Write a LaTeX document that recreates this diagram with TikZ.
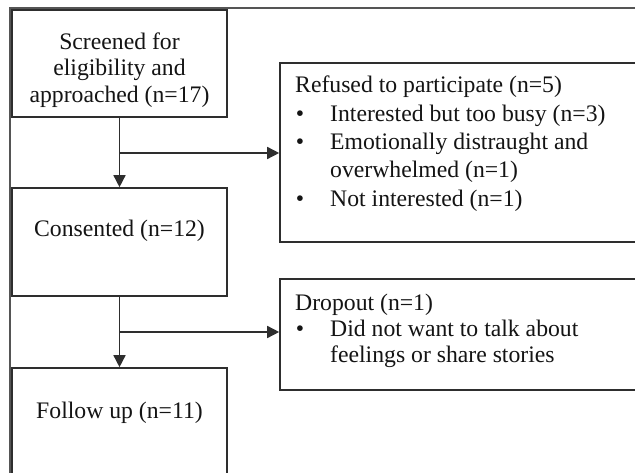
\documentclass[tikz,border=0pt]{standalone}
\usepackage{fontspec}
\setmainfont{Liberation Serif}
\usetikzlibrary{arrows.meta}
\definecolor{ink}{HTML}{141414}
\definecolor{edge}{HTML}{2E2E2E}
\definecolor{frame}{HTML}{555555}
\tikzset{
  box/.style={draw=edge, line width=1.6pt, rectangle, inner sep=0pt},
  txt/.style={inner sep=0pt, text=ink, font=\fontsize{23.7}{28}\selectfont},
  arr/.style={draw=edge, line width=1.5pt, -{Triangle[length=12pt,width=12pt]}},
}
\begin{document}
\begin{tikzpicture}[x=1pt,y=-1pt]
\useasboundingbox (0,0) rectangle (635,473);
\clip (0,0) rectangle (635,473);
\fill[white] (0,0) rectangle (635,473);
% outer frame (cropped)
\draw[frame, line width=2pt] (650,8) -- (10,8) -- (10,490);
% boxes
\node[box, minimum width=215pt, minimum height=107pt] (b1) at (119.5,63.5) {};
\node[box, minimum width=215pt, minimum height=108pt] (b2) at (119.5,242) {};
\node[box, minimum width=215pt, minimum height=117pt] (b3) at (119.5,426.5) {};
\node[box, minimum width=365pt, minimum height=179pt] (ref) at (462.5,152.5) {};
\node[box, minimum width=365pt, minimum height=111pt] (drop) at (462.5,334.5) {};
% texts box 1
\node[txt, anchor=base] (t1a) at (119.5,49.5) {Screened for};
\node[txt, anchor=base] (t1b) at (119.5,76) {eligibility and};
\node[txt, anchor=base] (t1c) at (119.5,102.5) {approached (n=17)};
\node[txt, anchor=base] (t2) at (119.5,237) {Consented (n=12)};
\node[txt, anchor=base] (t3) at (119.5,418) {Follow up (n=11)};
% refused
\node[txt, anchor=base west] (r0) at (295,93) {Refused to participate (n=5)};
\node[txt, anchor=base] (rb1) at (300,122) {•};
\node[txt, anchor=base west] (r1) at (330,122) {Interested but too busy (n=3)};
\node[txt, anchor=base] (rb2) at (300,150) {•};
\node[txt, anchor=base west] (r2) at (330,150) {Emotionally distraught and};
\node[txt, anchor=base west] (r3) at (330,178) {overwhelmed (n=1)};
\node[txt, anchor=base] (rb3) at (300,207) {•};
\node[txt, anchor=base west] (r4) at (330,207) {Not interested (n=1)};
% dropout
\node[txt, anchor=base west] (d0) at (295,310) {Dropout (n=1)};
\node[txt, anchor=base] (db1) at (300,336) {•};
\node[txt, anchor=base west] (d1) at (330,336) {Did not want to talk about};
\node[txt, anchor=base west] (d2) at (330,362) {feelings or share stories};
% connectors
\coordinate (j1) at (119.5,153);
\coordinate (j2) at (119.5,332);
\draw[arr] (b1.south) -- (b2.north);
\draw[arr] (j1) -- (j1 -| ref.west);
\draw[arr] (b2.south) -- (b3.north);
\draw[arr] (j2) -- (j2 -| drop.west);
\end{tikzpicture}
\end{document}
